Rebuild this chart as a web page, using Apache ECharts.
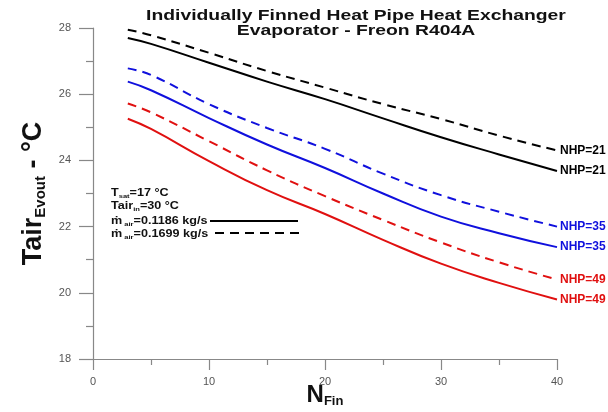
<!DOCTYPE html>
<html><head><meta charset="utf-8">
<script src="https://cdn.jsdelivr.net/npm/echarts@6/dist/echarts.min.js"></script>
<style>html,body{margin:0;padding:0;background:#fff}#c{width:608px;height:412px}</style>
</head><body><div id="c"></div>
<script>
const nFin = [3, 5, 10, 15, 20, 25, 30, 35, 40];
const nhp21Solid  = [27.70, 27.52, 26.95, 26.38, 25.85, 25.27, 24.70, 24.18, 23.68];
const nhp21Dashed = [27.95, 27.78, 27.25, 26.70, 26.20, 25.70, 25.25, 24.75, 24.30];
const nhp35Dashed = [26.78, 26.58, 25.70, 24.98, 24.35, 23.60, 22.95, 22.45, 22.00];
const nhp35Solid  = [26.38, 26.12, 25.28, 24.48, 23.77, 23.00, 22.30, 21.80, 21.38];
const nhp49Dashed = [25.72, 25.45, 24.58, 23.70, 22.92, 22.20, 21.52, 20.92, 20.40];
const nhp49Solid  = [25.26, 24.95, 23.98, 23.10, 22.38, 21.60, 20.88, 20.30, 19.80];
const xTicks = [0, 10, 20, 30, 40];
const yTicks = [18, 20, 22, 24, 26, 28];
const endLabels = ['NHP=21', 'NHP=21', 'NHP=35', 'NHP=35', 'NHP=49', 'NHP=49'];
const titleText = 'Individually Finned Heat Pipe Heat Exchanger\nEvaporator - Freon R404A';
const noteLines = ['{m|T}{s|sat}{m|=17 °C}', '{m|Tair}{s|in}{m|=30 °C}',
                   '{m|ṁ}{s| air}{m|=0.1186 kg/s}', '{m|ṁ}{s| air}{m|=0.1699 kg/s}'];

const FONT = '"Liberation Sans", Arial, sans-serif';
function mk(name, data, color, dashed, label) {
  return {
    name: name, type: 'line', smooth: true, symbol: 'none',
    data: nFin.map((x, i) => [x, data[i]]),
    lineStyle: { color: color, width: 2, type: dashed ? [9, 6] : 'solid' },
    endLabel: { show: true, formatter: label, color: color, fontFamily: FONT,
      fontWeight: 'bold', fontSize: 12, distance: 3 },
    z: 3
  };
}
const noteRich = {
  m: { fontFamily: FONT, fontWeight: 'bold', fontSize: 10, fill: '#111', lineHeight: 12, verticalAlign: 'middle' },
  s: { fontFamily: FONT, fontWeight: 'bold', fontSize: 6, fill: '#111', lineHeight: 6, verticalAlign: 'bottom' }
};
const noteY = [187, 200, 215, 228];
const chart = echarts.init(document.getElementById('c'), null, { renderer: 'canvas' });
chart.setOption({
  animation: false,
  grid: { left: 93, right: 51, top: 28, bottom: 53, containLabel: false, outerBoundsMode: 'none' },
  xAxis: {
    type: 'value', min: 0, max: 40, interval: 10,
    name: '{b|N}{s|Fin}', nameLocation: 'middle', nameGap: 23, nameMoveOverlap: false,
    nameTextStyle: { rich: {
      b: { fontFamily: FONT, fontWeight: 'bold', fontSize: 24, color: '#111', verticalAlign: 'middle', lineHeight: 26 },
      s: { fontFamily: FONT, fontWeight: 'bold', fontSize: 13, color: '#111', verticalAlign: 'bottom', lineHeight: 13 } } },
    axisLine: { show: true, onZero: false, lineStyle: { color: '#888', width: 1.2 } },
    axisTick: { show: true, length: 11, lineStyle: { color: '#888', width: 1.2 } },
    minorTick: { show: true, splitNumber: 2, length: 6, lineStyle: { color: '#888', width: 1.2 } },
    axisLabel: { color: '#555', fontFamily: FONT, fontSize: 11, margin: 17,
      formatter: v => xTicks.includes(v) ? String(v) : '' },
    splitLine: { show: false }
  },
  yAxis: {
    type: 'value', min: 18, max: 28, interval: 2,
    name: '{b|Tair}{s|Evout}{b| - °C}', nameLocation: 'middle', nameGap: 44,
    nameTextStyle: { rich: {
      b: { fontFamily: FONT, fontWeight: 'bold', fontSize: 27, color: '#111', verticalAlign: 'middle', lineHeight: 28 },
      s: { fontFamily: FONT, fontWeight: 'bold', fontSize: 15, color: '#111', verticalAlign: 'bottom', lineHeight: 14 } } },
    axisLine: { show: true, onZero: false, lineStyle: { color: '#888', width: 1.2 } },
    axisTick: { show: true, length: 14, lineStyle: { color: '#888', width: 1.2 } },
    minorTick: { show: true, splitNumber: 2, length: 7, lineStyle: { color: '#888', width: 1.2 } },
    axisLabel: { color: '#555', fontFamily: FONT, fontSize: 11, margin: 22,
      formatter: v => yTicks.includes(v) ? String(v) : '' },
    splitLine: { show: false }
  },
  series: [
    mk('NHP21d', nhp21Dashed, '#000', true, endLabels[0]),
    mk('NHP21s', nhp21Solid, '#000', false, endLabels[1]),
    mk('NHP35d', nhp35Dashed, '#1010dd', true, endLabels[2]),
    mk('NHP35s', nhp35Solid, '#1010dd', false, endLabels[3]),
    mk('NHP49d', nhp49Dashed, '#e01010', true, endLabels[4]),
    mk('NHP49s', nhp49Solid, '#e01010', false, endLabels[5])
  ],
  graphic: [
    { type: 'text', x: 356, y: 9, scaleX: 1.38, scaleY: 1, style: {
      text: titleText, align: 'center', textAlign: 'center', verticalAlign: 'top', textVerticalAlign: 'top',
      font: 'bold 14px ' + FONT, fontFamily: FONT, fontWeight: 'bold', fontSize: 14, lineHeight: 15, fill: '#111' } }
  ].concat(noteLines.map((t, i) => ({
    type: 'text', x: 111, y: noteY[i], scaleX: 1.26, style: { text: t, rich: noteRich } }))).concat([
    { type: 'line', shape: { x1: 210, y1: 221, x2: 298, y2: 221 }, style: { stroke: '#000', lineWidth: 2 } },
    { type: 'line', shape: { x1: 215, y1: 233, x2: 300, y2: 233 }, style: { stroke: '#000', lineWidth: 2, lineDash: [9, 6] } }
  ])
});
</script></body></html>
